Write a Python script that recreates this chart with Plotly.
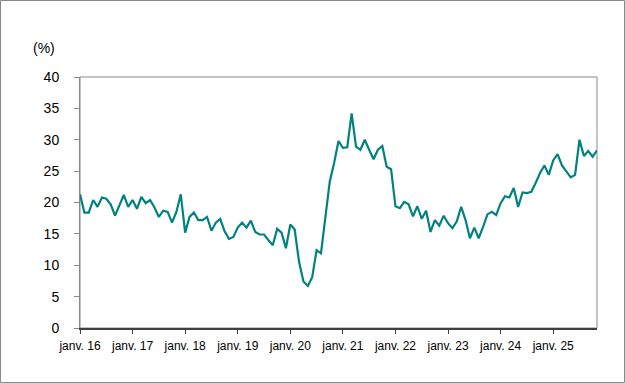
import plotly.graph_objects as go

# Monthly values, Jan 2016 -> Nov 2025 (%)
values_2016 = [21.3, 18.4, 18.4, 20.4, 19.3, 20.8, 20.6, 19.7, 17.9, 19.6, 21.2, 19.3]
values_2017 = [20.4, 19.0, 20.9, 19.9, 20.4, 19.2, 17.7, 18.7, 18.5, 16.8, 18.5, 21.3]
values_2018 = [15.2, 17.7, 18.4, 17.2, 17.2, 17.7, 15.5, 16.8, 17.4, 15.4, 14.2, 14.5]
values_2019 = [16.0, 16.8, 16.0, 17.1, 15.3, 14.9, 14.9, 14.0, 13.2, 15.8, 15.2, 12.7]
values_2020 = [16.5, 15.7, 10.5, 7.4, 6.7, 8.1, 12.4, 11.9, 17.7, 23.3, 26.3, 29.8]
values_2021 = [28.7, 28.8, 34.2, 28.9, 28.4, 30.0, 28.4, 26.9, 28.4, 29.0, 25.7, 25.3]
values_2022 = [19.4, 19.1, 20.1, 19.7, 17.8, 19.4, 17.4, 18.7, 15.3, 17.2, 16.3, 17.9]
values_2023 = [16.7, 15.9, 17.0, 19.3, 17.2, 14.3, 16.0, 14.3, 16.1, 18.1, 18.5, 18.0]
values_2024 = [19.9, 21.0, 20.8, 22.3, 19.3, 21.6, 21.5, 21.7, 23.1, 24.7, 25.9, 24.4]
values_2025 = [26.7, 27.7, 25.9, 24.9, 24.0, 24.4, 30.0, 27.4, 28.2, 27.3, 28.3]

values = (values_2016 + values_2017 + values_2018 + values_2019 + values_2020
          + values_2021 + values_2022 + values_2023 + values_2024 + values_2025)
month_index = list(range(len(values)))

tick_labels = ["janv. 16", "janv. 17", "janv. 18", "janv. 19", "janv. 20",
               "janv. 21", "janv. 22", "janv. 23", "janv. 24", "janv. 25"]
tick_positions = [12 * i for i in range(len(tick_labels))]

y_ticks = [0, 5, 10, 15, 20, 25, 30, 35, 40]

W, H = 625, 383
ML, MR, MT, MB = 80, 28, 77, 55
PW, PH = W - ML - MR, H - MT - MB

fig = go.Figure()
fig.add_trace(go.Scatter(
    x=month_index, y=values, mode="lines",
    line=dict(color="#00827F", width=2.2),
    hoverinfo="skip", showlegend=False,
))

font = "Liberation Sans, Arial, sans-serif"

fig.update_layout(
    width=W, height=H,
    margin=dict(l=ML, r=MR, t=MT, b=MB, pad=0),
    paper_bgcolor="white", plot_bgcolor="white",
    font=dict(family=font, color="#000000", size=12),
    xaxis=dict(
        range=[0, len(values) - 1],
        tickmode="array", tickvals=tick_positions, ticktext=tick_labels,
        ticks="outside", ticklen=4, tickwidth=1, tickcolor="#404040",
        showline=True, linecolor="#404040", linewidth=2,
        showgrid=False, zeroline=False,
        tickfont=dict(size=12, family=font),
        ticklabelstandoff=2,
    ),
    yaxis=dict(
        range=[0, 40],
        tickmode="array", tickvals=y_ticks,
        ticks="outside", ticklen=5, tickwidth=1, tickcolor="#898989",
        showline=True, linecolor="#898989", linewidth=1,
        showgrid=False, zeroline=False,
        tickfont=dict(size=14, family=font),
        ticklabelstandoff=12,
    ),
    shapes=[
        dict(type="rect", xref="paper", yref="paper", x0=0, x1=1, y0=0, y1=1,
             line=dict(color="#898989", width=1), layer="below"),
        dict(type="rect", xref="paper", yref="paper",
             x0=(0.5 - ML) / PW, x1=(W - 0.5 - ML) / PW,
             y0=-(MB - 0.5) / PH, y1=1 + (MT - 0.5) / PH,
             line=dict(color="#898989", width=1), layer="below"),
    ],
    annotations=[
        dict(text="(%)", xref="paper", yref="paper",
             x=(31 - ML) / PW, y=1 + (MT - 48) / PH,
             xanchor="left", yanchor="middle", showarrow=False,
             font=dict(size=14, family=font, color="#000000")),
    ],
)

fig.write_html(
    "out.html",
    config={"displayModeBar": False, "staticPlot": True},
    post_script="document.body.style.margin='0';document.body.style.padding='0';",
)
